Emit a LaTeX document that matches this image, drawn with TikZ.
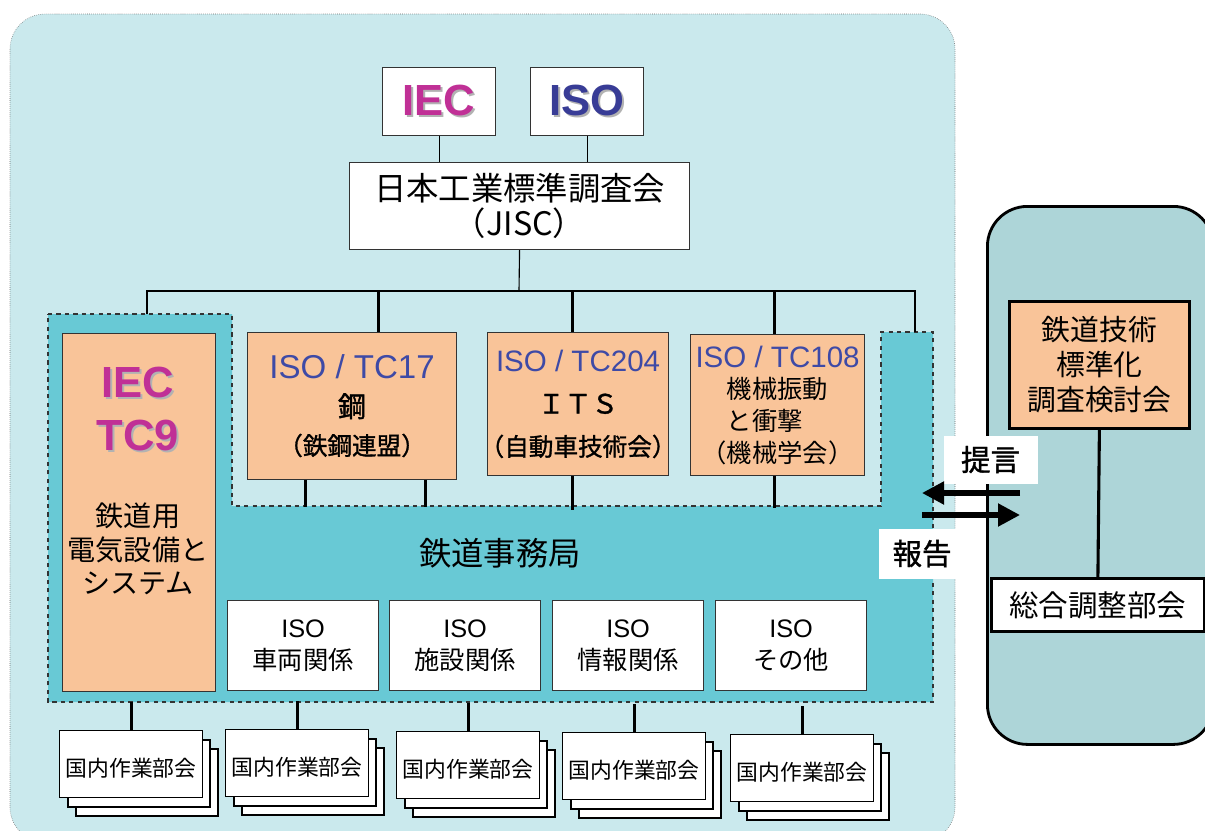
\documentclass[tikz,border=0pt]{standalone}
\usepackage{fontspec}
\setmainfont{Liberation Sans}
\newfontfamily\jp{Noto Sans CJK JP}
\newfontfamily\jpm[FakeBold=1.2]{Noto Sans CJK JP}
\usetikzlibrary{arrows.meta}
\definecolor{fondo}{RGB}{202,233,237}
\definecolor{turquesa}{RGB}{104,201,213}
\definecolor{salmon}{RGB}{249,196,153}
\definecolor{gris}{RGB}{173,213,216}
\definecolor{iecrosa}{RGB}{192,48,150}
\definecolor{isoazul}{RGB}{56,60,150}
\definecolor{tcazul}{RGB}{62,74,166}
% texto con sombra
\newcommand{\sombra}[2]{\makebox[0pt][l]{\hspace{1.3pt}\raisebox{-1.3pt}{\color{black!30}#2}}{\color{#1}#2}}
% titulo azul de los comites
\newcommand{\tctit}[2]{{\normalfont\fontsize{#1}{#1}\selectfont\color{tcazul}#2}}
% texto japones de otro tamano
\newcommand{\tam}[2]{{\fontsize{#1}{#1}\selectfont #2}}
\tikzset{
  caja/.style 2 args={rectangle, anchor=north west, inner sep=0pt,
    minimum width=#1*0.025cm, minimum height=#2*0.025cm,
    draw=black!80, line width=0.8pt, align=center},
  grueso/.style={line width=2.2pt},
  fino/.style={line width=0.8pt},
  hoja/.style={fill=white, draw=black, line width=0.8pt},
  flecha/.style={line width=3.6pt, -{Triangle[length=0.55cm,width=0.55cm]}}
}
\begin{document}
\begin{tikzpicture}[x=0.025cm, y=-0.025cm]
    \clip (0,0) rectangle (1205,830);
    % fondo principal
    \filldraw[fill=fondo, draw=black!60, densely dotted, rounded corners=0.875cm] (10,14) rectangle (955,842);
    % bloque derecho
    \node[caja={226}{538}, fill=gris, draw=black, line width=2pt, rounded corners=1cm] (consejo) at (986,205) {};
    % zona del secretariado
    \filldraw[fill=turquesa, draw=black!80, dashed, line width=0.8pt] (48,314) -- (232,314) -- (232,506)
        -- (881,506) -- (881,332) -- (933,332) -- (933,702) -- (48,702) -- cycle;
    \node[font=\jp\fontsize{23}{23}\selectfont] (jimu) at (500,553) {鉄道事務局};

    % IEC, ISO y JISC
    \node[caja={113}{68}, fill=white, font=\fontsize{31}{31}\selectfont\bfseries] (iec) at (382,67) {\sombra{iecrosa}{IEC}};
    \node[caja={113}{68}, fill=white, font=\fontsize{31}{31}\selectfont\bfseries] (iso) at (530,67) {\sombra{isoazul}{ISO}};
    \node[caja={340}{87}, fill=white, font=\jp\fontsize{23}{25}\selectfont] (jisc) at (349,162) {日本工業標準調査会\\（JISC）};
    \draw[fino] (iec.south) -- (iec.south |- jisc.north);
    \draw[fino] (iso.south) -- (iso.south |- jisc.north);

    % ramas
    \coordinate (rama) at (519,291);
    \coordinate (sec1) at (147,314);
    \coordinate (sec2) at (915,332);
    \draw[fino] (jisc.south) -- (rama);
    \draw[fino] (sec1) |- (rama) -| (sec2);

    % comites tecnicos
    \node[caja={153}{358}, fill=salmon] (tc9) at (62,333) {};
    \node[align=center, font=\fontsize{31}{38}\selectfont\bfseries] (tc9t) at (138,410) {\sombra{iecrosa}{IEC}\\\sombra{iecrosa}{TC9}};
    \node[align=center, font=\jp\fontsize{20}{24}\selectfont] (tc9j) at (138,549) {鉄道用\\電気設備と\\システム};
    \node[caja={209}{147}, fill=salmon, font=\jpm\fontsize{17.5}{27}\selectfont] (tc17) at (247,332)
        {\tctit{23.5}{ISO / TC17}\\\tam{20}{鋼}\\（鉄鋼連盟）};
    \node[caja={181}{143}, fill=salmon, font=\jpm\fontsize{17.5}{30}\selectfont] (tc204) at (487,332)
        {\tctit{21}{ISO / TC204}\\\tam{19}{ＩＴＳ}\\\makebox[0pt]{（自動車技術会）}};
    \node[caja={174}{141}, fill=salmon, font=\jp\fontsize{18}{22.5}\selectfont] (tc108) at (690,334)
        {\tctit{21}{ISO / TC108}\\機械振動\\と衝撃　\\（機械学会）};
    \draw[grueso] ([xshift=0.66cm]tc17.north) -- ++(0,-41);
    \draw[grueso] ([xshift=-0.14cm]tc204.north) -- ++(0,-41);
    \draw[grueso] ([xshift=-0.075cm]tc108.north) -- ++(0,-43);
    \draw[grueso] ([xshift=-1.16cm]tc17.south) -- ++(0,27);
    \draw[grueso] ([xshift=1.84cm]tc17.south) -- ++(0,27);
    \draw[grueso] ([xshift=-0.14cm]tc204.south) -- ++(0,34);
    \draw[grueso] ([xshift=-0.075cm]tc108.south) -- ++(0,32);

    % grupos ISO
    \foreach \n/\x/\t in {1/227/車両関係, 2/389/施設関係, 3/552/情報関係, 4/715/その他}
        \node[caja={151}{90}, fill=white, font=\fontsize{18}{23}\selectfont] (grupo\n) at (\x,600) {ISO\\{\jp \t}};

    % grupos de trabajo nacionales
    \foreach \n/\x/\y in {1/59/730, 2/225/729, 3/396/731, 4/562/732, 5/730/734} {
        \draw[hoja] (\x+17,\y+19) rectangle ++(142,67);
        \draw[hoja] (\x+9,\y+10) rectangle ++(142,67);
        \node[caja={143}{67}, hoja, font=\jp\fontsize{15.5}{15.5}\selectfont, text height=0.68cm] (gt\n) at (\x,\y) {国内作業部会};
        \draw[grueso] (gt\n.north) -- ++(0,-28);
    }

    % comite de estudio
    \node[caja={180}{127}, fill=salmon, draw=black, line width=2pt, font=\jp\fontsize{20.5}{25}\selectfont] (kentou) at (1008,300)
        {鉄道技術\\標準化\\調査検討会};
    \node[caja={213}{53}, fill=white, draw=black, line width=2pt, font=\jp\fontsize{21}{21}\selectfont] (sochou) at (990,577) {総合調整部会};
    \draw[grueso] (kentou.south) -- (sochou.north);

    % propuesta e informe
    \node[caja={94}{48}, fill=white, draw=none, font=\jpm\fontsize{21}{21}\selectfont] (teigen) at (943,435) {提言};
    \node[caja={87}{50}, fill=white, draw=none, font=\jpm\fontsize{21}{21}\selectfont] (houkoku) at (878,528) {報告};
    \coordinate (a1) at (1020,493);
    \coordinate (b1) at (922,493);
    \coordinate (a2) at (922,515);
    \coordinate (b2) at (1020,515);
    \draw[flecha] (a1) -- (b1);
    \draw[flecha] (a2) -- (b2);
\end{tikzpicture}
\end{document}
